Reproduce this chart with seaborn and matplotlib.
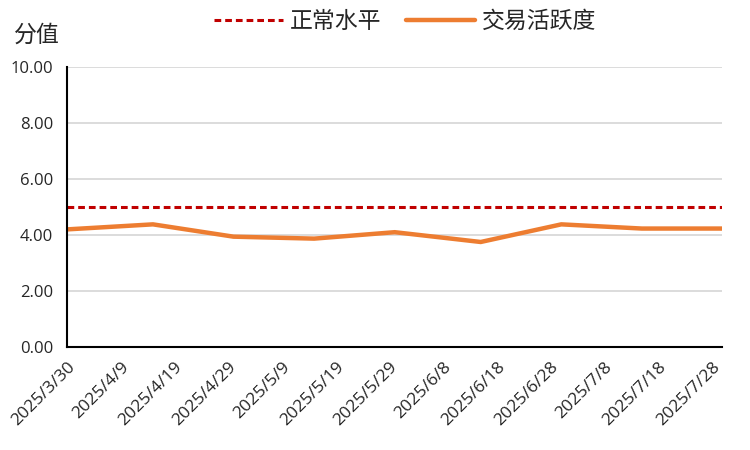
import matplotlib
matplotlib.use("Agg")
import matplotlib.pyplot as plt
import seaborn as sns
import pandas as pd

dates = ["2025-03-30", "2025-04-15", "2025-04-30", "2025-05-15", "2025-05-30",
         "2025-06-15", "2025-06-30", "2025-07-15", "2025-07-30"]
activity = [4.20, 4.38, 3.94, 3.87, 4.10, 3.75, 4.38, 4.23, 4.23]
normal = [5.0, 5.0, 5.0, 5.0, 5.0, 5.0, 5.0, 5.0, 5.0]
tick_dates = ["2025-03-30", "2025-04-09", "2025-04-19", "2025-04-29", "2025-05-09",
              "2025-05-19", "2025-05-29", "2025-06-08", "2025-06-18", "2025-06-28",
              "2025-07-08", "2025-07-18", "2025-07-28"]
tick_labels = ["2025/3/30", "2025/4/9", "2025/4/19", "2025/4/29", "2025/5/9",
               "2025/5/19", "2025/5/29", "2025/6/8", "2025/6/18", "2025/6/28",
               "2025/7/8", "2025/7/18", "2025/7/28"]
y_ticks = [0, 2, 4, 6, 8, 10]

sns.set_style("white")
plt.rcParams['font.family'] = ['Noto Sans CJK SC', 'DejaVu Sans']

df = pd.DataFrame({"date": pd.to_datetime(dates), "activity": activity, "normal": normal})

fig = plt.figure(figsize=(7.5, 4.5), dpi=100)
ax = fig.add_axes([0.0893, 0.229, 0.874, 0.622])

sns.lineplot(data=df, x="date", y="normal", ax=ax, color="#C00000", linewidth=2.2,
             label="正常水平", dashes=False, linestyle=(0, (2.2, 1.3)))
sns.lineplot(data=df, x="date", y="activity", ax=ax, color="#ED7D31", linewidth=3.2,
             label="交易活跃度")

ax.set_xlim(df["date"].min(), df["date"].max())
ax.set_ylim(0, 10)
ax.set_yticks(y_ticks)
ax.set_yticklabels([f"{v:.2f}" for v in y_ticks], fontsize=12, family=['Open Sans', 'DejaVu Sans'])
ax.set_xticks(pd.to_datetime(tick_dates))
ax.set_xticklabels(tick_labels, rotation=45, ha="right", rotation_mode="anchor",
                   fontsize=12.5, family=['Open Sans', 'DejaVu Sans'])
ax.set_xlabel("")
ax.set_ylabel("")

ax.yaxis.grid(True, color="#D9D9D9", linewidth=1.3)
ax.set_axisbelow(True)
for s in ["top", "right"]:
    ax.spines[s].set_visible(False)
ax.spines["left"].set_color("black")
ax.spines["left"].set_linewidth(1.5)
ax.spines["bottom"].set_color("black")
ax.spines["bottom"].set_linewidth(1.5)
ax.tick_params(axis="both", direction="out", length=5, width=1.5, color="black", pad=4)
ax.tick_params(axis="y", pad=5)

fig.text(0.018, 0.922, "分值", fontsize=16.5, va="center", ha="left")

ax.legend(loc="center", bbox_to_anchor=(0.54, 0.953), bbox_transform=fig.transFigure,
          ncol=2, frameon=False, fontsize=16.5, handlelength=3.0, handletextpad=0.3,
          columnspacing=1.1)

fig.savefig("out.png", dpi=100)
